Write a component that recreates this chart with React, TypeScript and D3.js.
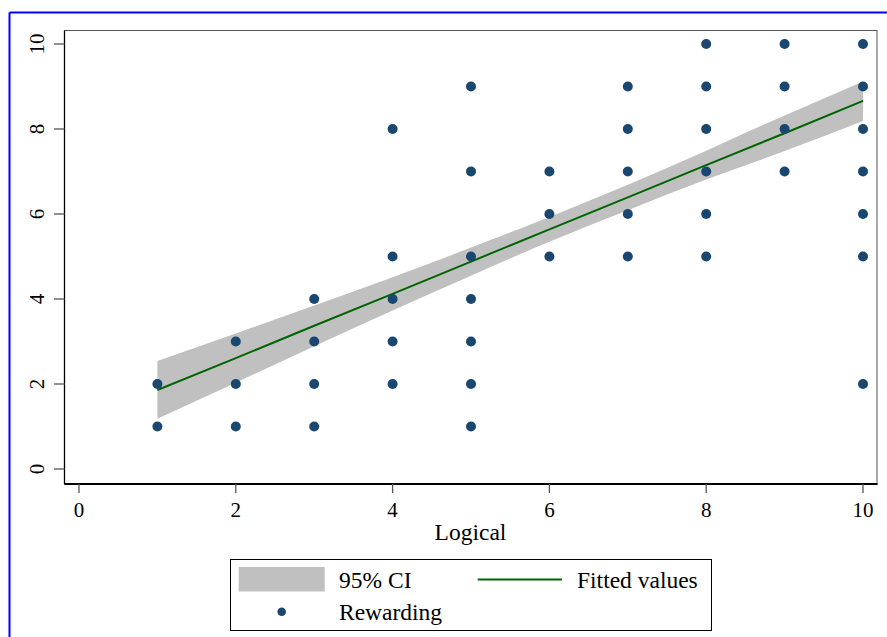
import React from "react";
import * as d3 from "d3";

// Scatter data: Logical (x) vs Rewarding (y)
const pointX = [
  1, 1,
  2, 2, 2,
  3, 3, 3, 3,
  4, 4, 4, 4, 4,
  5, 5, 5, 5, 5, 5, 5,
  6, 6, 6,
  7, 7, 7, 7, 7,
  8, 8, 8, 8, 8, 8,
  9, 9, 9, 9,
  10, 10, 10, 10, 10, 10, 10,
];
const pointY = [
  1, 2,
  1, 2, 3,
  1, 2, 3, 4,
  2, 3, 4, 5, 8,
  1, 2, 3, 4, 5, 7, 9,
  5, 6, 7,
  5, 6, 7, 8, 9,
  5, 6, 7, 8, 9, 10,
  7, 8, 9, 10,
  2, 5, 6, 7, 8, 9, 10,
];

// Fitted line and 95% CI
const fitX = [1, 2, 3, 4, 5, 6, 7, 8, 9, 10];
const fitY = [1.86, 2.61, 3.37, 4.12, 4.88, 5.64, 6.39, 7.15, 7.9, 8.66];
const ciHigh = [2.54, 3.19, 3.85, 4.51, 5.21, 5.93, 6.69, 7.49, 8.32, 9.12];
const ciLow = [1.18, 2.03, 2.89, 3.73, 4.55, 5.35, 6.09, 6.81, 7.48, 8.19];

const xTicks = [0, 2, 4, 6, 8, 10];
const yTicks = [0, 2, 4, 6, 8, 10];

const xTitle = "Logical";
const legendCI = "95% CI";
const legendFit = "Fitted values";
const legendPts = "Rewarding";

const W = 887;
const H = 637;
const FONT = "'Liberation Serif', 'Times New Roman', serif";

export default function App() {
  const x = d3.scaleLinear().domain([0, 10]).range([79, 863]);
  const y = d3.scaleLinear().domain([0, 10]).range([469, 44]);

  const plotL = 64.5;
  const plotR = 877;
  const plotT = 30.5;
  const plotB = 484;

  const band = d3
    .area<number>()
    .x((_, i) => x(fitX[i]))
    .y0((_, i) => y(ciLow[i]))
    .y1((_, i) => y(ciHigh[i]))
    .curve(d3.curveMonotoneX)(fitX);

  const line = d3
    .line<number>()
    .x((_, i) => x(fitX[i]))
    .y((_, i) => y(fitY[i]))(fitX);

  return (
    <svg
      width={W}
      height={H}
      style={{ position: "absolute", left: 0, top: 0, background: "#fff" }}
      fontFamily={FONT}
    >
      {/* outer blue frame */}
      <line x1={9.5} y1={12.5} x2={W} y2={12.5} stroke="#0000ff" strokeWidth={2} />
      <line x1={9.5} y1={12.5} x2={9.5} y2={H} stroke="#0000ff" strokeWidth={2} />

      {/* plot region */}
      <rect x={plotL} y={plotT} width={plotR - plotL} height={plotB - plotT} fill="#fff" stroke="#555" strokeWidth={1} />

      {/* CI band */}
      <path d={band || ""} fill="#c0c0c0" stroke="none" />
      {/* fitted line */}
      <path d={line || ""} fill="none" stroke="#006400" strokeWidth={2} />

      {/* points */}
      {pointX.map((px, i) => (
        <circle key={i} cx={x(px)} cy={y(pointY[i])} r={5} fill="#1a476f" />
      ))}

      {/* axes */}
      <line x1={plotL} y1={plotT} x2={plotL} y2={plotB} stroke="#000" strokeWidth={1.3} />
      <line x1={plotL} y1={plotB} x2={plotR + 0.5} y2={plotB} stroke="#000" strokeWidth={1.8} />

      {yTicks.map((t) => (
        <g key={"y" + t}>
          <line x1={54} x2={plotL} y1={y(t)} y2={y(t)} stroke="#555" strokeWidth={1.3} />
          <text
            transform={`translate(44, ${y(t)}) rotate(-90)`}
            textAnchor="middle"
            fontSize={21}
            fill="#000"
          >
            {t}
          </text>
        </g>
      ))}

      {xTicks.map((t) => (
        <g key={"x" + t}>
          <line x1={x(t)} x2={x(t)} y1={plotB} y2={493} stroke="#555" strokeWidth={1.3} />
          <text x={x(t)} y={517} textAnchor="middle" fontSize={21} fill="#000">
            {t}
          </text>
        </g>
      ))}

      <text x={470.5} y={540} textAnchor="middle" fontSize={23.5} fill="#000">
        {xTitle}
      </text>

      {/* legend */}
      <rect x={230.5} y={559.5} width={481} height={71} fill="#fff" stroke="#000" strokeWidth={1} />
      <rect x={238.7} y={567} width={86} height={24.5} fill="#c0c0c0" />
      <text x={339} y={588} fontSize={23.5} fill="#000">
        {legendCI}
      </text>
      <line x1={477.7} x2={562} y1={579.5} y2={579.5} stroke="#006400" strokeWidth={2} />
      <text x={577} y={588} fontSize={23.5} fill="#000">
        {legendFit}
      </text>
      <circle cx={281.7} cy={611.7} r={4.3} fill="#1a476f" />
      <text x={339} y={620} fontSize={23.5} fill="#000">
        {legendPts}
      </text>
    </svg>
  );
}
